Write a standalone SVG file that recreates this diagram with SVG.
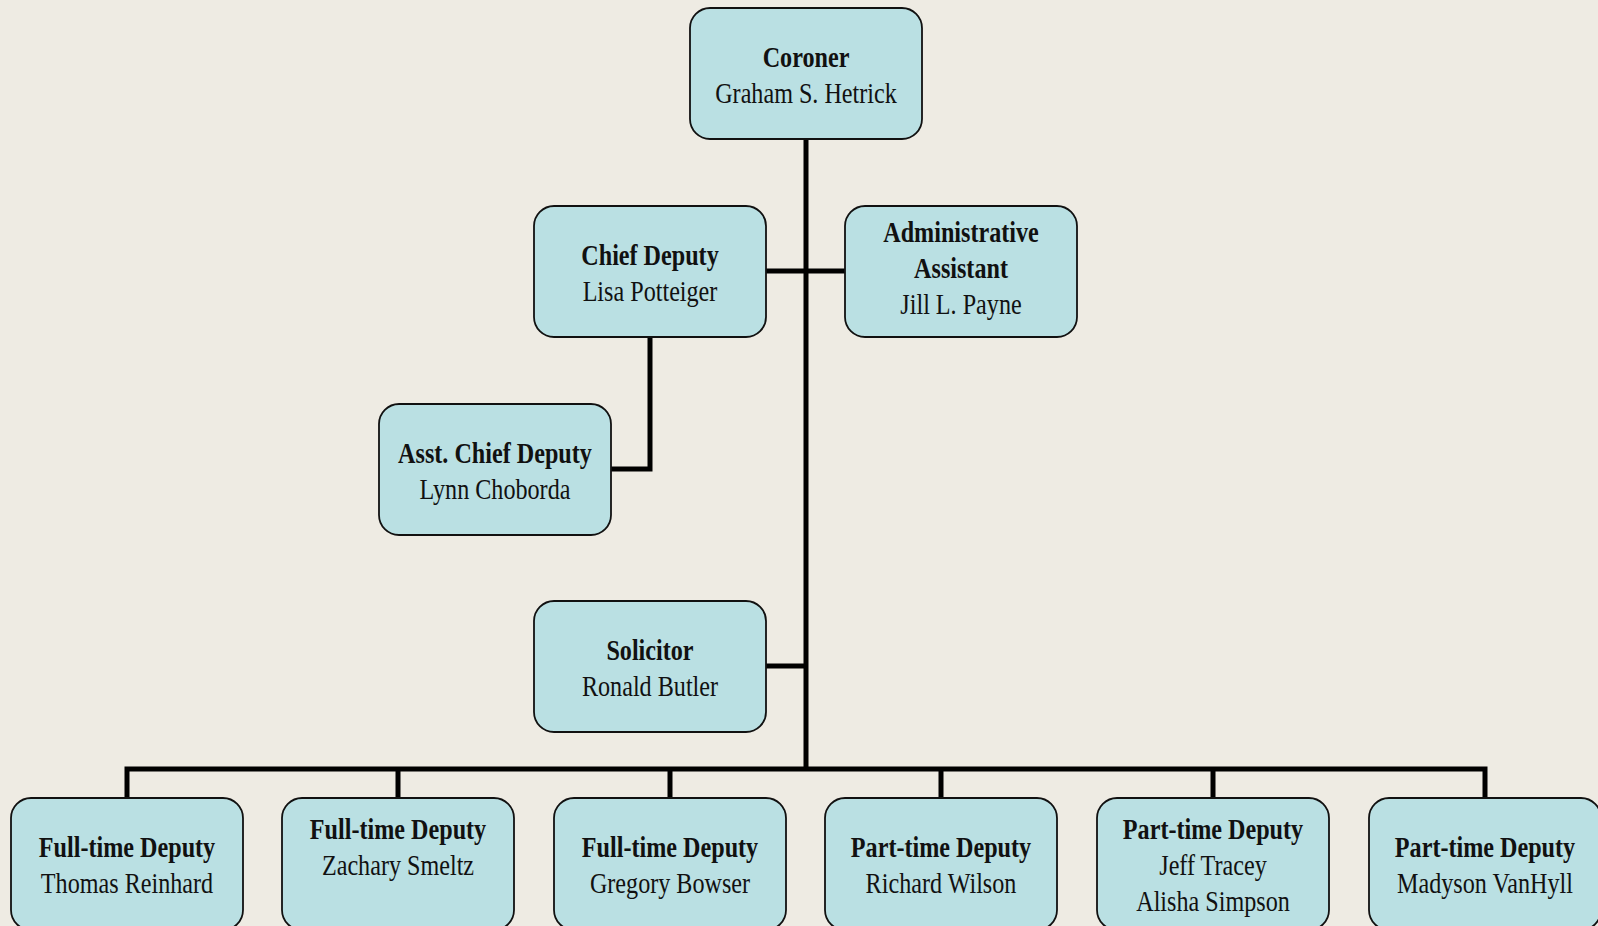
<svg xmlns="http://www.w3.org/2000/svg" width="1598" height="926" viewBox="0 0 1598 926">
<style>
.box{fill:#BAE0E3;stroke:#111;stroke-width:1.8}
.t{font-family:"Liberation Serif","Times New Roman",serif;font-size:30px;fill:#111;text-anchor:middle}
.b{font-weight:bold}
.c{fill:none;stroke:#000;stroke-width:5;stroke-linejoin:miter}
</style>
<rect x="0" y="0" width="1598" height="926" fill="#EEEBE3"/>
<g id="connectors">
<path class="c" d="M806,140 V769"/>
<path class="c" d="M127,798 V769 H1485 V798"/>
<path class="c" d="M398,769 V798 M670,769 V798 M941,769 V798 M1213,769 V798"/>
<path class="c" d="M766,271 H845"/>
<path class="c" d="M650,337 V469 H611"/>
<path class="c" d="M766,666 H806"/>
</g>
<g id="coroner">
<rect class="box" x="690" y="8" width="232" height="131" rx="20"/>
<text class="t b" transform="translate(806,67) scale(0.805,1)">Coroner</text>
<text class="t" transform="translate(806,103) scale(0.805,1)">Graham S. Hetrick</text>
</g>
<g id="chief-deputy">
<rect class="box" x="534" y="206" width="232" height="131" rx="20"/>
<text class="t b" transform="translate(650,265) scale(0.805,1)">Chief Deputy</text>
<text class="t" transform="translate(650,301) scale(0.805,1)">Lisa Potteiger</text>
</g>
<g id="admin-assistant">
<rect class="box" x="845" y="206" width="232" height="131" rx="20"/>
<text class="t b" transform="translate(961,242) scale(0.805,1)">Administrative</text>
<text class="t b" transform="translate(961,278) scale(0.805,1)">Assistant</text>
<text class="t" transform="translate(961,314) scale(0.805,1)">Jill L. Payne</text>
</g>
<g id="asst-chief-deputy">
<rect class="box" x="379" y="404" width="232" height="131" rx="20"/>
<text class="t b" transform="translate(495,463) scale(0.805,1)">Asst. Chief Deputy</text>
<text class="t" transform="translate(495,499) scale(0.805,1)">Lynn Choborda</text>
</g>
<g id="solicitor">
<rect class="box" x="534" y="601" width="232" height="131" rx="20"/>
<text class="t b" transform="translate(650,660) scale(0.805,1)">Solicitor</text>
<text class="t" transform="translate(650,696) scale(0.805,1)">Ronald Butler</text>
</g>
<g id="ft-deputy-1">
<rect class="box" x="11" y="798" width="232" height="132" rx="20"/>
<text class="t b" transform="translate(127,857) scale(0.805,1)">Full-time Deputy</text>
<text class="t" transform="translate(127,893) scale(0.805,1)">Thomas Reinhard</text>
</g>
<g id="ft-deputy-2">
<rect class="box" x="282" y="798" width="232" height="132" rx="20"/>
<text class="t b" transform="translate(398,839) scale(0.805,1)">Full-time Deputy</text>
<text class="t" transform="translate(398,875) scale(0.805,1)">Zachary Smeltz</text>
</g>
<g id="ft-deputy-3">
<rect class="box" x="554" y="798" width="232" height="132" rx="20"/>
<text class="t b" transform="translate(670,857) scale(0.805,1)">Full-time Deputy</text>
<text class="t" transform="translate(670,893) scale(0.805,1)">Gregory Bowser</text>
</g>
<g id="pt-deputy-1">
<rect class="box" x="825" y="798" width="232" height="132" rx="20"/>
<text class="t b" transform="translate(941,857) scale(0.805,1)">Part-time Deputy</text>
<text class="t" transform="translate(941,893) scale(0.805,1)">Richard Wilson</text>
</g>
<g id="pt-deputy-2">
<rect class="box" x="1097" y="798" width="232" height="132" rx="20"/>
<text class="t b" transform="translate(1213,839) scale(0.805,1)">Part-time Deputy</text>
<text class="t" transform="translate(1213,875) scale(0.805,1)">Jeff Tracey</text>
<text class="t" transform="translate(1213,911) scale(0.805,1)">Alisha Simpson</text>
</g>
<g id="pt-deputy-3">
<rect class="box" x="1369" y="798" width="232" height="132" rx="20"/>
<text class="t b" transform="translate(1485,857) scale(0.805,1)">Part-time Deputy</text>
<text class="t" transform="translate(1485,893) scale(0.805,1)">Madyson VanHyll</text>
</g>
</svg>
